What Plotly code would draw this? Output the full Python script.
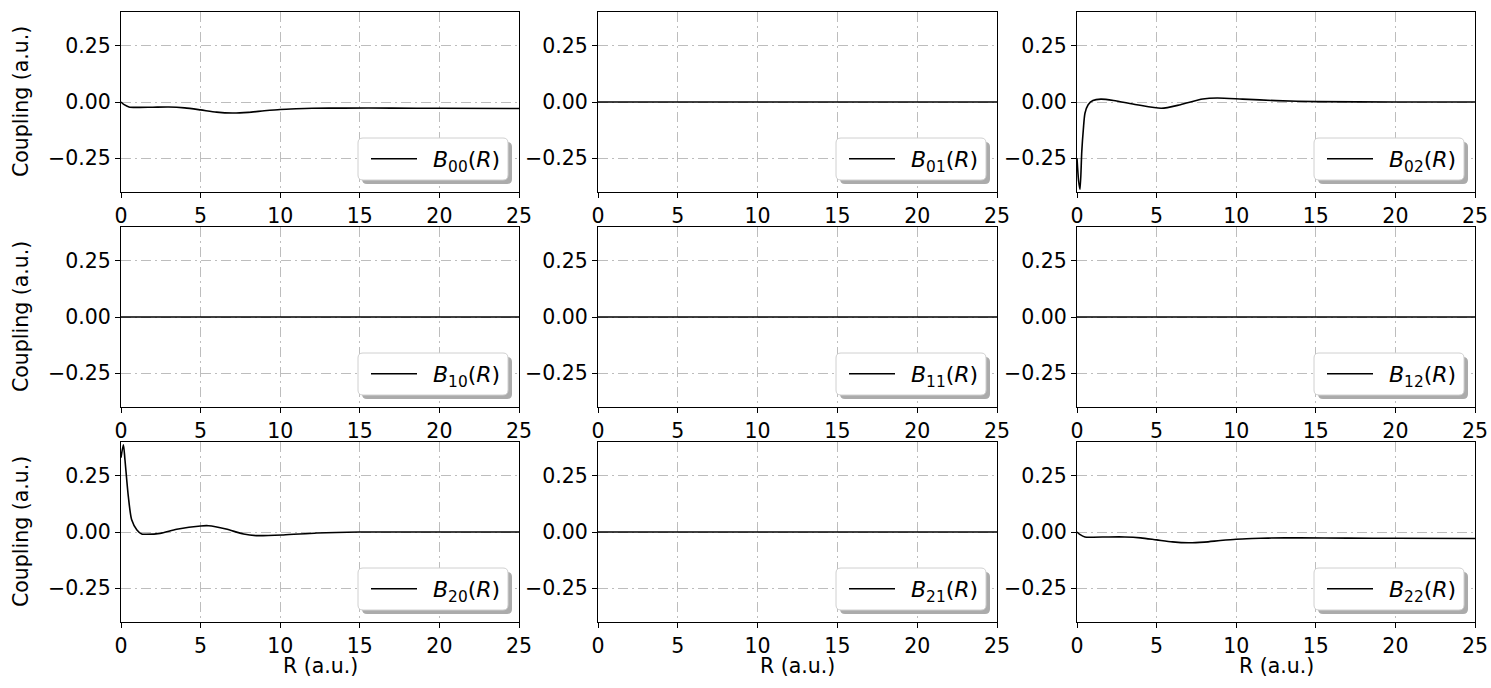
import plotly.graph_objects as go

W, H = 1491, 688

# Radial grid (a.u.) and non-adiabatic coupling values for each matrix element
r_b00 = [0, 0.2, 0.5, 1, 2, 3, 4, 5, 6, 7, 8, 9, 10, 11, 12, 14, 17, 20, 25]
b00 = [0, -0.012, -0.022, -0.024, -0.023, -0.022, -0.026, -0.035, -0.045,
       -0.049, -0.046, -0.039, -0.033, -0.030, -0.028, -0.027, -0.027, -0.028, -0.029]

r_b01 = [0, 25]
b01 = [0, 0]

r_b02 = [0, 0.1, 0.19, 0.3, 0.4, 0.5, 0.7, 1.0, 1.5, 2.3, 3.75, 5.3, 6.5, 7.9,
         8.8, 10.4, 12.5, 15, 20, 25]
b02 = [-0.25, -0.35, -0.388, -0.22, -0.12, -0.05, -0.012, 0.007, 0.013, 0.007,
       -0.012, -0.028, -0.012, 0.013, 0.018, 0.013, 0.006, 0.0015, 0, 0]

r_b10 = [0, 25]
b10 = [0, 0]

r_b11 = [0, 25]
b11 = [0, 0]

r_b12 = [0, 25]
b12 = [0, 0]

r_b20 = [0, 0.15, 0.25, 0.46, 0.67, 1.0, 1.3, 1.6, 2.45, 3.5, 5.0, 5.5, 6.6,
         7.7, 8.5, 10.2, 12.3, 15, 20, 25]
b20 = [0.33, 0.388, 0.32, 0.158, 0.054, 0.009, -0.009, -0.010, -0.006, 0.012,
       0.027, 0.028, 0.013, -0.009, -0.016, -0.013, -0.0045, 0, 0, 0]

r_b21 = [0, 25]
b21 = [0, 0]

r_b22 = [0, 0.2, 0.5, 1, 2, 3, 4, 5, 6, 7, 8, 9, 10, 11, 12, 14, 17, 20, 25]
b22 = [0, -0.012, -0.022, -0.023, -0.022, -0.022, -0.026, -0.035, -0.044,
       -0.048, -0.045, -0.038, -0.032, -0.029, -0.027, -0.026, -0.027, -0.028, -0.029]

labels = ["00", "01", "02", "10", "11", "12", "20", "21", "22"]
series = [(r_b00, b00), (r_b01, b01), (r_b02, b02),
          (r_b10, b10), (r_b11, b11), (r_b12, b12),
          (r_b20, b20), (r_b21, b21), (r_b22, b22)]

x_ticks = [0, 5, 10, 15, 20, 25]
y_ticks = [-0.25, 0.0, 0.25]
y_ticktext = ["\u22120.25", "0.00", "0.25"]

FONT = "DejaVu Sans"
FS = 20.5

# panel frames in pixels
col_left = [121, 598, 1077]
col_right = [519, 997, 1475]
row_top = [12, 227, 442]
row_bottom = [192, 407, 622]

fig = go.Figure()
layout = dict(
    width=W, height=H,
    margin=dict(l=0, r=0, t=0, b=0, autoexpand=False),
    paper_bgcolor="white", plot_bgcolor="white",
    font=dict(family=FONT, size=FS, color="black"),
    showlegend=True,
)
shapes = []
annotations = []


def rounded_rect(x0, y0, x1, y1, rad):
    # pixel box -> paper-coordinate SVG path with rounded corners
    def px(v):
        return v / W

    def py(v):
        return 1 - v / H
    rx, ry = rad, rad
    return (f"M {px(x0 + rx)},{py(y0)} L {px(x1 - rx)},{py(y0)} "
            f"Q {px(x1)},{py(y0)} {px(x1)},{py(y0 + ry)} "
            f"L {px(x1)},{py(y1 - ry)} Q {px(x1)},{py(y1)} {px(x1 - rx)},{py(y1)} "
            f"L {px(x0 + rx)},{py(y1)} Q {px(x0)},{py(y1)} {px(x0)},{py(y1 - ry)} "
            f"L {px(x0)},{py(y0 + ry)} Q {px(x0)},{py(y0)} {px(x0 + rx)},{py(y0)} Z")


for i, (lab, (r, b)) in enumerate(zip(labels, series)):
    row, col = divmod(i, 3)
    n = i + 1
    xa = "xaxis" if n == 1 else f"xaxis{n}"
    ya = "yaxis" if n == 1 else f"yaxis{n}"
    xref = "x" if n == 1 else f"x{n}"
    yref = "y" if n == 1 else f"y{n}"
    lg = "legend" if n == 1 else f"legend{n}"

    fig.add_trace(go.Scatter(
        x=r, y=b, mode="lines",
        line=dict(color="black", width=1.6, shape="spline", smoothing=0.7),
        name=f"\u2002<i>B</i><sub>{lab}</sub>(<i>R</i>)",
        xaxis=xref, yaxis=yref, legend=lg, showlegend=True,
    ))

    axis_common = dict(
        showline=True, linecolor="black", linewidth=1.2, mirror=True,
        ticks="outside", ticklen=5, tickwidth=1.2, tickcolor="black",
        showgrid=True, gridcolor="#bdbdbd", gridwidth=1,
        griddash="10px,4px,2px,4px",
        zeroline=False, automargin=False,
        tickfont=dict(family=FONT, size=FS, color="black"),
    )
    layout[xa] = dict(
        axis_common,
        domain=[col_left[col] / W, col_right[col] / W],
        range=[0, 25], tickvals=x_ticks, anchor=yref,
    )
    layout[ya] = dict(
        axis_common,
        domain=[1 - row_bottom[row] / H, 1 - row_top[row] / H],
        range=[-0.4, 0.4], tickvals=y_ticks, ticktext=y_ticktext, anchor=xref,
    )

    # legend frame with drop shadow
    bx1 = col_right[col] - 11
    bx0 = bx1 - 150
    by1 = row_bottom[row] - 12
    by0 = by1 - 42
    shapes.append(dict(type="path", xref="paper", yref="paper",
                       path=rounded_rect(bx0 + 4, by0 + 4, bx1 + 4, by1 + 4, 5),
                       fillcolor="#ababab", line=dict(width=0), layer="above"))
    shapes.append(dict(type="path", xref="paper", yref="paper",
                       path=rounded_rect(bx0, by0, bx1, by1, 5),
                       fillcolor="white", line=dict(color="#d0d0d0", width=1),
                       layer="above"))
    layout[lg] = dict(
        x=(bx1 - 2) / W, xanchor="right",
        y=1 - (by0 + by1) / 2 / H, yanchor="middle",
        bgcolor="rgba(0,0,0,0)", borderwidth=0,
        font=dict(family=FONT, size=22, color="black"),
        itemwidth=46,
    )

# axis titles
for row in range(3):
    annotations.append(dict(
        text="Coupling (a.u.)", xref="paper", yref="paper",
        x=21 / W, y=1 - (row_top[row] + row_bottom[row]) / 2 / H,
        xanchor="center", yanchor="middle", textangle=-90, showarrow=False,
        font=dict(family=FONT, size=FS, color="black"),
    ))
for col in range(3):
    annotations.append(dict(
        text="R (a.u.)", xref="paper", yref="paper",
        x=(col_left[col] + col_right[col]) / 2 / W, y=1 - 666 / H,
        xanchor="center", yanchor="middle", showarrow=False,
        font=dict(family=FONT, size=FS, color="black"),
    ))

layout["shapes"] = shapes
layout["annotations"] = annotations
fig.update_layout(**layout)
fig.write_html("out.html")
